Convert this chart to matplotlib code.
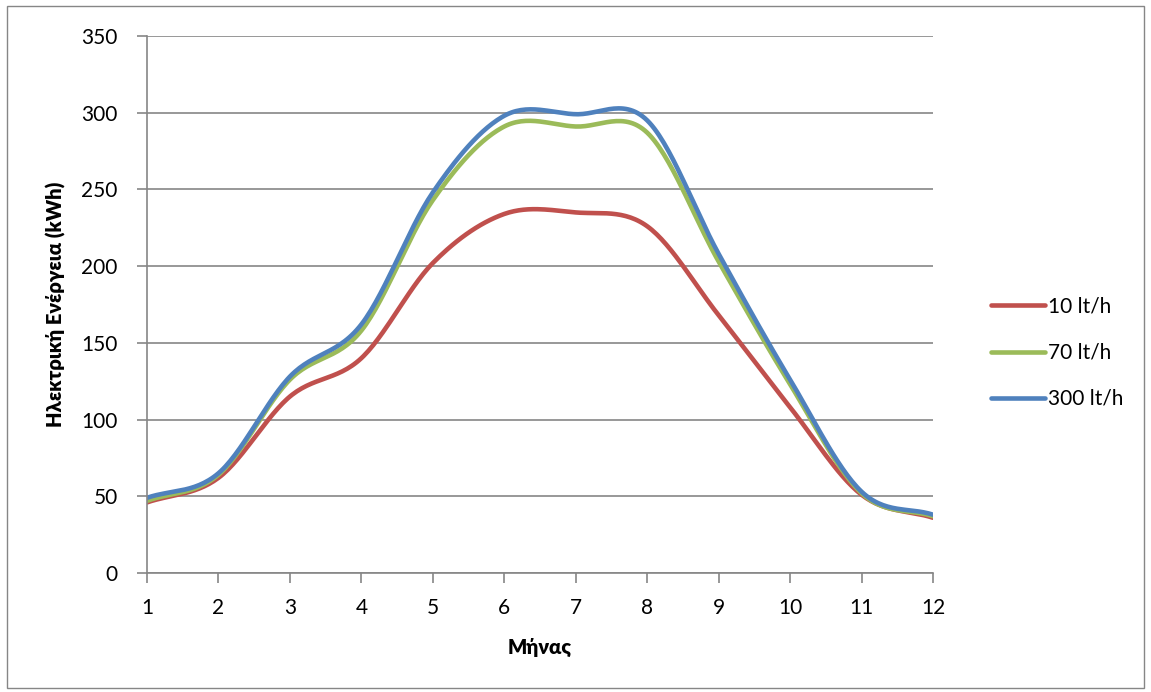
import numpy as np
import matplotlib
matplotlib.use("Agg")
import matplotlib.pyplot as plt
from matplotlib.patches import Rectangle

plt.rcParams['font.family'] = ['Lato', 'Noto Sans', 'DejaVu Sans']

months = [1, 2, 3, 4, 5, 6, 7, 8, 9, 10, 11, 12]
flow_10 = [46, 62, 115, 140, 202, 234, 235, 226, 168, 108, 51, 36]
flow_70 = [47, 64, 126, 158, 243, 291, 291, 287, 203, 123, 52, 37]
flow_300 = [49, 65, 128, 162, 248, 298, 299, 295, 208, 126, 53, 38]
labels = ["10 lt/h", "70 lt/h", "300 lt/h"]
colors = ["#C0504D", "#9BBB59", "#4F81BD"]


def smooth(x, y, n=30):
    # Excel-like smoothed line (Catmull-Rom through the points)
    x = np.asarray(x, float)
    y = np.asarray(y, float)
    px = np.concatenate([[2 * x[0] - x[1]], x, [2 * x[-1] - x[-2]]])
    py = np.concatenate([[2 * y[0] - y[1]], y, [2 * y[-1] - y[-2]]])
    xs, ys = [], []
    t = np.linspace(0, 1, n, endpoint=False)
    for i in range(1, len(px) - 2):
        for arr, out in ((px, xs), (py, ys)):
            p0, p1, p2, p3 = arr[i - 1], arr[i], arr[i + 1], arr[i + 2]
            m1 = (p2 - p0) / 2
            m2 = (p3 - p1) / 2
            h00 = 2 * t**3 - 3 * t**2 + 1
            h10 = t**3 - 2 * t**2 + t
            h01 = -2 * t**3 + 3 * t**2
            h11 = t**3 - t**2
            out.extend(h00 * p1 + h10 * m1 + h01 * p2 + h11 * m2)
    xs.append(x[-1])
    ys.append(y[-1])
    return np.array(xs), np.array(ys)


fig = plt.figure(figsize=(11.51, 6.92), dpi=100)
fig.patches.append(Rectangle((0.006, 0.006), 0.988, 0.985, transform=fig.transFigure,
                             fill=False, edgecolor="#868686", linewidth=1))
ax = fig.add_axes([0.1277, 0.172, 0.6829, 0.776])

for vals, lab, c in zip([flow_10, flow_70, flow_300], labels, colors):
    sx, sy = smooth(months, vals)
    ax.plot(sx, sy, color=c, linewidth=3.3, label=lab, solid_capstyle="round")

ax.set_xlim(1, 12)
ax.set_ylim(0, 350)
ax.set_xticks(months)
ax.set_yticks(range(0, 351, 50))
ax.yaxis.grid(True, color="#868686", linewidth=1.2)
ax.set_axisbelow(True)
for s in ["top", "right"]:
    ax.spines[s].set_visible(False)
for s in ["left", "bottom"]:
    ax.spines[s].set_color("#868686")
    ax.spines[s].set_linewidth(1.2)
ax.tick_params(axis="both", colors="#868686", length=7, width=1.2, labelsize=15,
               labelcolor="black")
ax.tick_params(axis="x", pad=11)
ax.tick_params(axis="y", pad=14)

ax.set_xlabel("Μήνας", fontsize=14.5, fontweight="heavy", labelpad=14)
ax.set_ylabel("Ηλεκτρική Ενέργεια (kWh)", fontsize=14.5, fontweight="heavy", labelpad=11)

ax.legend(loc="center left", bbox_to_anchor=(1.05, 0.41), frameon=False, fontsize=15,
          handlelength=2.6, handletextpad=0.15, labelspacing=1.25)

fig.savefig("out.png", dpi=100)
